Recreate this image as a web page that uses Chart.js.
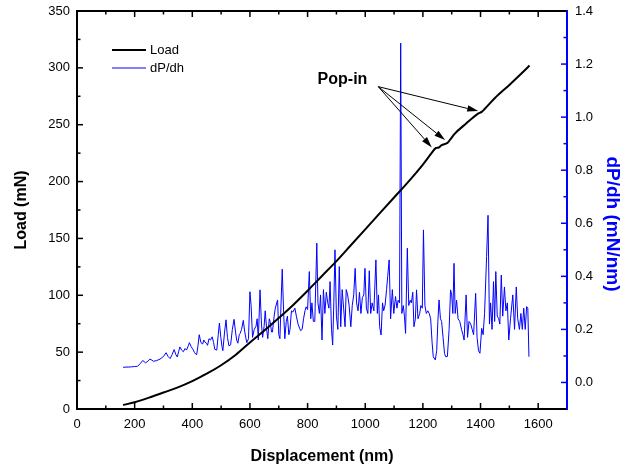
<!DOCTYPE html>
<html>
<head>
<meta charset="utf-8">
<title>Load and dP/dh vs displacement</title>
<script src="https://cdn.jsdelivr.net/npm/chart.js@4.4.1/dist/chart.umd.min.js"></script>
<style>
  body { margin: 0; background: #fff; }
  #wrap { width: 623px; height: 469px; }
</style>
</head>
<body>
<div id="wrap"><canvas id="chart" width="623" height="469"></canvas></div>
<script>
// load curve (nm, mN)
const loadX = [160, 200, 250, 300, 350, 400, 450, 500, 550, 600, 650, 700, 750, 800, 850, 900,
  950, 1000, 1050, 1100, 1150, 1200, 1230, 1245, 1255, 1265, 1285, 1295, 1310, 1350, 1390,
  1405, 1415, 1450, 1500, 1550, 1570];
const loadY = [3.5, 6, 10, 14.5, 19, 24.5, 31, 38.5, 47.5, 58.5, 69, 80, 91.5, 104, 117, 130,
  144, 158, 172, 186, 200, 215, 225, 229.5, 230, 232, 234, 237, 242, 251, 259.5,
  261.5, 264, 273.5, 285, 297, 302];

// dP/dh (nm, mN/nm)
const dpdhX = [
  160, 170, 180, 190, 200, 210, 220, 228, 238, 246,
  253, 260, 265, 275, 288, 300, 309, 316, 323, 330,
  337, 343, 348, 353, 357, 363, 369, 375, 380, 386,
  390, 396, 402, 408, 415, 420, 424, 430, 436, 440,
  444, 449, 453, 458, 463, 469, 474, 478, 485, 490,
  494, 499, 503, 506, 512, 517, 522, 527, 533, 539,
  545, 550, 554, 558, 563, 566, 571, 577, 582, 589,
  595, 600, 604, 609, 615, 621, 625, 629, 635, 640,
  644, 649, 653, 658, 662, 667, 670, 675, 678, 684,
  688, 693, 696, 700, 704, 708, 712, 717, 721, 726,
  730, 735, 739, 744, 749, 756, 761, 767, 772, 776,
  781, 786, 791, 795, 800, 806, 811, 815, 820, 825,
  832, 836, 841, 845, 850, 855, 860, 865, 870, 874,
  878, 883, 887, 891, 895, 900, 905, 910, 915, 920,
  925, 930, 934, 939, 944, 950, 955, 960, 965, 970,
  975, 980, 985, 990, 995, 999, 1004, 1009, 1014, 1019,
  1024, 1030, 1037, 1042, 1046, 1050, 1055, 1060, 1064, 1069,
  1074, 1078, 1083, 1088, 1094, 1099, 1105, 1110, 1114, 1119,
  1123, 1127, 1132, 1136, 1140, 1146, 1151, 1156, 1160, 1165,
  1169, 1174, 1178, 1183, 1189, 1193, 1198, 1202, 1207, 1212,
  1217, 1222, 1227, 1232, 1236, 1243, 1248, 1252, 1256, 1261,
  1265, 1270, 1275, 1279, 1285, 1291, 1296, 1300, 1304, 1308,
  1312, 1317, 1322, 1328, 1334, 1339, 1343, 1350, 1355, 1360,
  1366, 1371, 1376, 1383, 1388, 1393, 1398, 1404, 1409, 1414,
  1421, 1426, 1431, 1435, 1440, 1445, 1449, 1453, 1458, 1463,
  1467, 1472, 1477, 1483, 1488, 1493, 1498, 1504, 1512, 1518,
  1524, 1529, 1535, 1540, 1545, 1550, 1555, 1560, 1564, 1568];
const dpdhY = [
  0.057, 0.058, 0.058, 0.059, 0.060, 0.061, 0.072, 0.083, 0.074, 0.080,
  0.088, 0.084, 0.080, 0.082, 0.088, 0.098, 0.112, 0.098, 0.090, 0.105,
  0.124, 0.105, 0.096, 0.118, 0.134, 0.122, 0.116, 0.128, 0.122, 0.138,
  0.150, 0.135, 0.125, 0.112, 0.104, 0.140, 0.180, 0.150, 0.145, 0.160,
  0.152, 0.148, 0.140, 0.165, 0.160, 0.172, 0.150, 0.125, 0.122, 0.180,
  0.224, 0.170, 0.135, 0.120, 0.190, 0.236, 0.170, 0.138, 0.142, 0.200,
  0.238, 0.190, 0.160, 0.148, 0.180, 0.185, 0.200, 0.234, 0.190, 0.150,
  0.165, 0.342, 0.290, 0.170, 0.200, 0.212, 0.240, 0.160, 0.349, 0.220,
  0.170, 0.210, 0.270, 0.200, 0.165, 0.240, 0.230, 0.190, 0.190, 0.250,
  0.280, 0.300, 0.311, 0.180, 0.165, 0.300, 0.427, 0.260, 0.165, 0.230,
  0.250, 0.180, 0.200, 0.270, 0.265, 0.280, 0.250, 0.220, 0.205, 0.195,
  0.200, 0.240, 0.270, 0.285, 0.275, 0.418, 0.240, 0.300, 0.230, 0.230,
  0.525, 0.300, 0.260, 0.330, 0.160, 0.350, 0.260, 0.340, 0.300, 0.280,
  0.380, 0.200, 0.141, 0.300, 0.500, 0.250, 0.200, 0.437, 0.210, 0.350,
  0.280, 0.210, 0.350, 0.330, 0.290, 0.210, 0.290, 0.330, 0.430, 0.300,
  0.270, 0.340, 0.260, 0.320, 0.330, 0.430, 0.280, 0.260, 0.421, 0.260,
  0.300, 0.270, 0.462, 0.260, 0.330, 0.210, 0.179, 0.300, 0.270, 0.292,
  0.350, 0.400, 0.462, 0.240, 0.350, 0.260, 0.324, 0.280, 0.310, 0.300,
  1.279, 0.260, 0.290, 0.250, 0.185, 0.506, 0.290, 0.310, 0.300, 0.340,
  0.210, 0.240, 0.349, 0.240, 0.260, 0.290, 0.280, 0.575, 0.290, 0.260,
  0.270, 0.260, 0.240, 0.150, 0.097, 0.085, 0.120, 0.230, 0.311, 0.240,
  0.230, 0.170, 0.110, 0.097, 0.098, 0.200, 0.349, 0.330, 0.260, 0.449,
  0.260, 0.310, 0.240, 0.230, 0.200, 0.180, 0.160, 0.330, 0.170, 0.230,
  0.220, 0.200, 0.180, 0.336, 0.170, 0.120, 0.110, 0.204, 0.180, 0.260,
  0.474, 0.630, 0.220, 0.300, 0.200, 0.380, 0.230, 0.418, 0.250, 0.240,
  0.220, 0.405, 0.250, 0.360, 0.270, 0.300, 0.160, 0.240, 0.330, 0.200,
  0.360, 0.240, 0.200, 0.260, 0.200, 0.280, 0.200, 0.286, 0.280, 0.097];

// tick labels
const xTicks = [0, 200, 400, 600, 800, 1000, 1200, 1400, 1600];
const yTicks = [0, 50, 100, 150, 200, 250, 300, 350];
const y2Ticks = [0, 0.2, 0.4, 0.6, 0.8, 1.0, 1.2, 1.4];
const y2Title = "dP/dh (mN/nm)";

// pop-in note: label centre and arrow targets, in (nm, mN)
const popInLabel = { text: "Pop-in", x: 921, y: 290 };
const popInFrom = [1045, 283.5];
const popInTargets = [[1392, 262], [1277, 236.5], [1231, 230]];

const FONT = "'Liberation Sans', Arial, sans-serif";
const BLUE = "#0000ff";

const toPoints = (xs, ys) => xs.map((x, i) => ({ x: x, y: ys[i] }));
const setTicks = (vals) => (scale) => { scale.ticks = vals.map(v => ({ value: v })); };
// fixed axis box size, and no extra room reserved for half labels
const fixBox = (prop, size) => (s) => {
  s[prop] = size;
  s.paddingTop = 0; s.paddingBottom = 0; s.paddingLeft = 0; s.paddingRight = 0;
};

// frame + inward major/minor ticks on all four sides
const frameTicks = {
  id: "frameTicks",
  afterDraw(chart) {
    const { ctx, chartArea: a, scales } = chart;
    const seg = (x1, y1, x2, y2) => { ctx.beginPath(); ctx.moveTo(x1, y1); ctx.lineTo(x2, y2); ctx.stroke(); };
    const withMinors = (vals) => {
      const out = [];
      vals.forEach((v, i) => {
        out.push([v, true]);
        if (i < vals.length - 1) out.push([(v + vals[i + 1]) / 2, false]);
      });
      const step = vals[1] - vals[0];
      out.push([vals[vals.length - 1] + step / 2, false]);
      return out;
    };
    ctx.save();
    ctx.lineWidth = 1.5;
    ctx.strokeStyle = "#000";
    withMinors(xTicks).forEach(([v, major]) => {
      if (v > scales.x.max) return;
      const px = scales.x.getPixelForValue(v);
      const len = major ? 6 : 3.5;
      seg(px, a.bottom, px, a.bottom - len);
      seg(px, a.top, px, a.top + len);
    });
    withMinors(yTicks).forEach(([v, major]) => {
      if (v > scales.y.max) return;
      const py = scales.y.getPixelForValue(v);
      seg(a.left, py, a.left + (major ? 6 : 3.5), py);
    });
    ctx.strokeStyle = BLUE;
    withMinors(y2Ticks).forEach(([v, major]) => {
      if (v > scales.y2.max + 1e-9) return;
      const py = scales.y2.getPixelForValue(v);
      seg(a.right, py, a.right - (major ? 6 : 3.5), py);
    });
    // axis lines
    ctx.lineWidth = 2;
    ctx.strokeStyle = "#000";
    seg(a.left, a.top, a.right, a.top);
    seg(a.left, a.bottom, a.right + 1, a.bottom);
    seg(a.left, a.top - 1, a.left, a.bottom + 1);
    ctx.strokeStyle = BLUE;
    seg(a.right, a.top - 1, a.right, a.bottom + 1);

    // right axis title, reading top to bottom
    ctx.save();
    ctx.translate(612, (a.top + a.bottom) / 2 + 14);
    ctx.rotate(Math.PI / 2);
    ctx.fillStyle = BLUE;
    ctx.font = "bold 19px " + FONT;
    ctx.textAlign = "center";
    ctx.textBaseline = "middle";
    ctx.fillText(y2Title, 0, 0);
    ctx.restore();
    ctx.restore();
  }
};

// legend inside plot area, top-left
const insideLegend = {
  id: "insideLegend",
  afterDraw(chart) {
    const { ctx, chartArea: a } = chart;
    ctx.save();
    ctx.font = "13px " + FONT;
    ctx.textBaseline = "middle";
    chart.data.datasets.forEach((ds, i) => {
      const y = a.top + 39 + i * 18;
      ctx.strokeStyle = ds.borderColor;
      ctx.lineWidth = ds.borderWidth;
      ctx.beginPath();
      ctx.moveTo(a.left + 35, y);
      ctx.lineTo(a.left + 69, y);
      ctx.stroke();
      ctx.fillStyle = "#000";
      ctx.fillText(ds.label, a.left + 73, y);
    });
    ctx.restore();
  }
};

// "Pop-in" note with arrows
const popInNote = {
  id: "popInNote",
  afterDatasetsDraw(chart) {
    const { ctx, scales: { x, y } } = chart;
    ctx.save();
    ctx.fillStyle = "#000";
    ctx.strokeStyle = "#000";
    ctx.lineWidth = 1;
    ctx.font = "bold 16px " + FONT;
    ctx.textAlign = "center";
    ctx.textBaseline = "middle";
    ctx.fillText(popInLabel.text, x.getPixelForValue(popInLabel.x), y.getPixelForValue(popInLabel.y));
    const fx = x.getPixelForValue(popInFrom[0]);
    const fy = y.getPixelForValue(popInFrom[1]);
    popInTargets.forEach(([tx0, ty0]) => {
      const tx = x.getPixelForValue(tx0);
      const ty = y.getPixelForValue(ty0);
      const ang = Math.atan2(ty - fy, tx - fx);
      const head = 11, half = 3.2;
      const bx = tx - head * Math.cos(ang);
      const by = ty - head * Math.sin(ang);
      ctx.beginPath();
      ctx.moveTo(fx, fy);
      ctx.lineTo(bx, by);
      ctx.stroke();
      ctx.beginPath();
      ctx.moveTo(tx, ty);
      ctx.lineTo(bx + half * Math.sin(ang), by - half * Math.cos(ang));
      ctx.lineTo(bx - half * Math.sin(ang), by + half * Math.cos(ang));
      ctx.closePath();
      ctx.fill();
    });
    ctx.restore();
  }
};

new Chart(document.getElementById("chart").getContext("2d"), {
  type: "line",
  data: {
    datasets: [
      {
        label: "Load",
        data: toPoints(loadX, loadY),
        borderColor: "#000000",
        borderWidth: 2,
        pointRadius: 0,
        cubicInterpolationMode: "monotone",
        yAxisID: "y"
      },
      {
        label: "dP/dh",
        data: toPoints(dpdhX, dpdhY),
        borderColor: BLUE,
        borderWidth: 1,
        pointRadius: 0,
        tension: 0,
        yAxisID: "y2"
      }
    ]
  },
  options: {
    responsive: false,
    animation: false,
    events: [],
    layout: { padding: { top: 11, left: 0, right: 0, bottom: 0 } },
    plugins: { legend: { display: false }, tooltip: { enabled: false } },
    scales: {
      x: {
        type: "linear",
        min: 0,
        max: 1700,
        afterBuildTicks: setTicks(xTicks),
        afterFit: fixBox("height", 60),
        grid: { display: false, drawTicks: false },
        border: { display: false },
        ticks: {
          color: "#000",
          padding: 8,
          font: { family: FONT, size: 13 },
          callback: (v) => String(v)
        },
        title: {
          display: true,
          text: "Displacement (nm)",
          color: "#000",
          font: { family: FONT, size: 16, weight: "bold" },
          padding: { top: 0, bottom: 3 }
        }
      },
      y: {
        position: "left",
        min: 0,
        max: 350,
        afterBuildTicks: setTicks(yTicks),
        afterFit: fixBox("width", 77),
        grid: { display: false, drawTicks: false },
        border: { display: false },
        ticks: {
          color: "#000",
          padding: 7,
          font: { family: FONT, size: 13 },
          callback: (v) => String(v)
        },
        title: {
          display: true,
          text: "Load (mN)",
          color: "#000",
          font: { family: FONT, size: 16, weight: "bold" },
          padding: { top: 12, bottom: 0 }
        }
      },
      y2: {
        position: "right",
        min: -0.1,
        max: 1.4,
        afterBuildTicks: setTicks(y2Ticks),
        afterFit: fixBox("width", 56),
        grid: { display: false, drawTicks: false },
        border: { display: false },
        ticks: {
          color: "#000",
          padding: 8,
          font: { family: FONT, size: 13 },
          callback: (v) => Number(v).toFixed(1)
        },
        title: { display: false }
      }
    }
  },
  plugins: [frameTicks, insideLegend, popInNote]
});
</script>
</body>
</html>
